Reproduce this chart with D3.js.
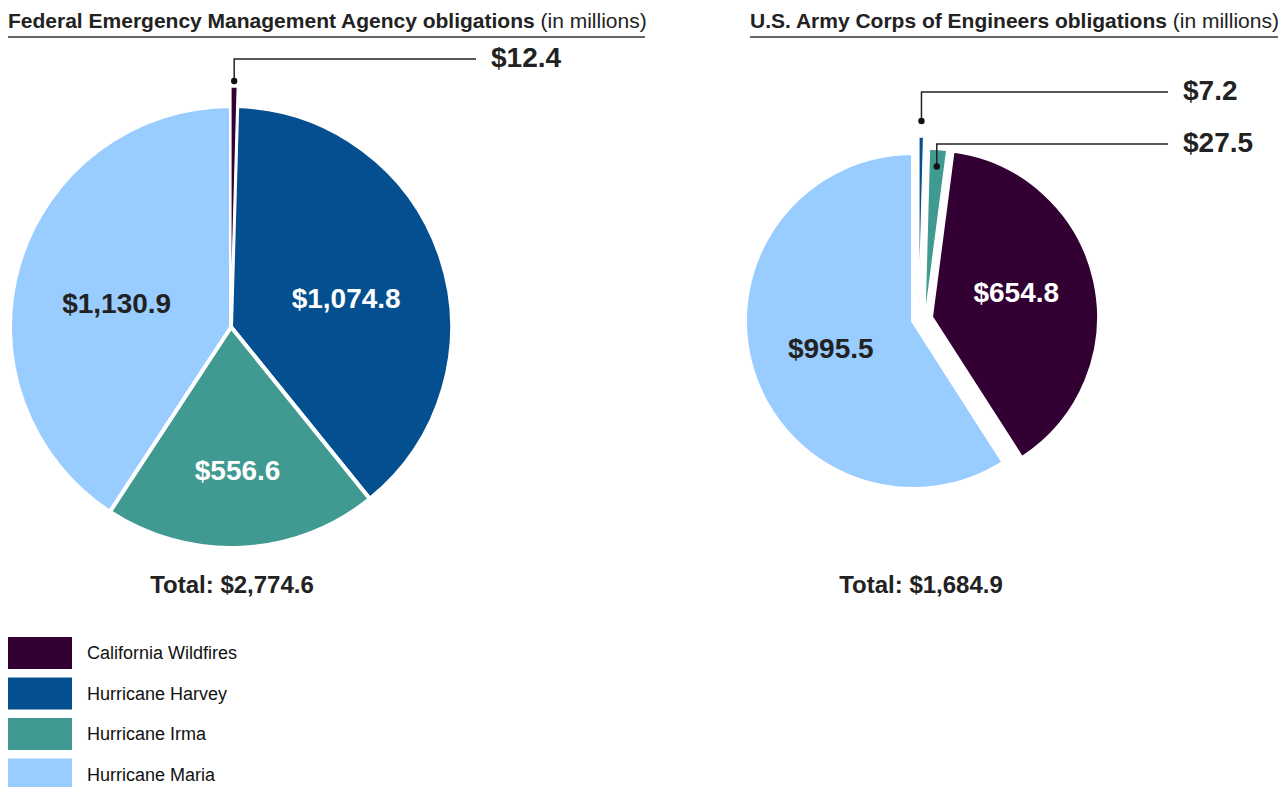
<!DOCTYPE html>
<html>
<head>
<meta charset="utf-8">
<script src="https://cdn.jsdelivr.net/npm/d3@7"></script>
<style>
  body { margin: 0; background: #fff; }
  text { font-family: "Liberation Sans", Arial, Helvetica, sans-serif; }
</style>
</head>
<body>
<div id="chart"></div>
<script>
// data
var legendCategories = ["California Wildfires", "Hurricane Harvey", "Hurricane Irma", "Hurricane Maria"];
var legendColors = ["#320033", "#044f8f", "#419a91", "#99ccff"];

var femaCategories = ["California Wildfires", "Hurricane Harvey", "Hurricane Irma", "Hurricane Maria"];
var femaValues = [12.4, 1074.8, 556.6, 1130.9];
var femaTotal = 2774.6;

var corpsCategories = ["Hurricane Harvey", "Hurricane Irma", "California Wildfires", "Hurricane Maria"];
var corpsValues = [7.2, 27.5, 654.8, 995.5];
var corpsTotal = 1684.9;

var femaTitle = "Federal Emergency Management Agency obligations";
var corpsTitle = "U.S. Army Corps of Engineers obligations";
var unitNote = " (in millions)";

// layout
var width = 1286, height = 787;
var svg = d3.select("#chart").append("svg")
    .attr("width", width)
    .attr("height", height);

var color = d3.scaleOrdinal().domain(legendCategories).range(legendColors);
var money = d3.format("$,.1f");

var femaLayout = {
  cx: 231, cy: 327, r: 221, titleX: 8, titleX2: 645, totalX: 232,
  offsets: [[0, -19], [0, 0], [0, 0], [0, 0]],
  labelR: [0, 0.55, 0.6, 0.54],
  labelDy: [0, 10, 10, 10],
  darkText: [false, false, false, true],
  callouts: [{slice: 0, dotR: 6, lineY: 59, lineX2: 476, textX: 491}]
};
var corpsLayout = {
  cx: 913, cy: 321, r: 168, titleX: 750, titleX2: 1278, totalX: 921,
  offsets: [[6, -16], [12, -4], [18, -4], [0, 0]],
  labelR: [0, 0, 0.52, 0.51],
  labelDy: [0, 0, -6, 3],
  darkText: [false, false, false, true],
  callouts: [
    {slice: 0, dotR: 16, lineY: 92, lineX2: 1168, textX: 1183},
    {slice: 1, dotR: -17, lineY: 144, lineX2: 1168, textX: 1183}
  ]
};

function drawPie(title, cats, vals, total, L) {
  var data = cats.map(function(c, i) { return {cat: c, value: vals[i], i: i}; });
  var arcs = d3.pie().sort(null).value(function(d) { return d.value; })(data);
  var arc = d3.arc().innerRadius(0).outerRadius(L.r);

  // title with underline
  var t = svg.append("text")
      .attr("x", L.titleX)
      .attr("y", 28)
      .style("font-size", "21px")
      .attr("fill", "#222");
  t.append("tspan").style("font-weight", "bold").text(title);
  t.append("tspan").text(unitNote);
  svg.append("line")
      .attr("x1", L.titleX).attr("x2", L.titleX2)
      .attr("y1", 37).attr("y2", 37)
      .attr("stroke", "#333").attr("stroke-width", 1.5);

  var g = svg.append("g").attr("transform", "translate(" + L.cx + "," + L.cy + ")");

  // big slices first with white separators, thin ones on top
  var big = arcs.filter(function(a) { return a.endAngle - a.startAngle > 0.12; });
  var small = arcs.filter(function(a) { return a.endAngle - a.startAngle <= 0.12; });

  g.selectAll("path.big").data(big).enter().append("path")
      .attr("class", "big")
      .attr("d", arc)
      .attr("transform", function(a) { var o = L.offsets[a.index]; return "translate(" + o[0] + "," + o[1] + ")"; })
      .attr("fill", function(a) { return color(a.data.cat); })
      .attr("stroke", "#fff")
      .attr("stroke-width", 4)
      .attr("stroke-linejoin", "round");

  g.selectAll("path.small").data(small).enter().append("path")
      .attr("class", "small")
      .attr("d", arc)
      .attr("transform", function(a) { var o = L.offsets[a.index]; return "translate(" + o[0] + "," + o[1] + ")"; })
      .attr("fill", function(a) { return color(a.data.cat); })
      .attr("stroke", "#fff")
      .attr("stroke-width", 1.2);

  // labels inside the big slices
  g.selectAll("text.val").data(big).enter().append("text")
      .attr("class", "val")
      .attr("x", function(a) {
        var m = (a.startAngle + a.endAngle) / 2;
        return Math.sin(m) * L.r * L.labelR[a.index] + L.offsets[a.index][0];
      })
      .attr("y", function(a) {
        var m = (a.startAngle + a.endAngle) / 2;
        return -Math.cos(m) * L.r * L.labelR[a.index] + L.offsets[a.index][1] + L.labelDy[a.index];
      })
      .attr("dy", "0.36em")
      .attr("text-anchor", "middle")
      .style("font-size", "28px")
      .style("font-weight", "bold")
      .attr("fill", function(a) { return L.darkText[a.index] ? "#222" : "#fff"; })
      .text(function(a) { return money(a.data.value); });

  // callouts for thin slices
  L.callouts.forEach(function(c) {
    var a = arcs[c.slice];
    var m = (a.startAngle + a.endAngle) / 2;
    var rr = L.r + c.dotR;
    var dx = Math.sin(m) * rr + L.offsets[c.slice][0];
    var dy = -Math.cos(m) * rr + L.offsets[c.slice][1];
    var ly = c.lineY - L.cy, lx2 = c.lineX2 - L.cx;
    g.append("path")
        .attr("d", "M" + dx + "," + dy + "V" + ly + "H" + lx2)
        .attr("fill", "none")
        .attr("stroke", "#222")
        .attr("stroke-width", 1.5);
    g.append("circle")
        .attr("cx", dx).attr("cy", dy).attr("r", 3.2)
        .attr("fill", "#111");
    g.append("text")
        .attr("x", c.textX - L.cx)
        .attr("y", ly)
        .attr("dy", "0.3em")
        .style("font-size", "28px")
        .style("font-weight", "bold")
        .attr("fill", "#222")
        .text(money(a.data.value));
  });

  // total
  svg.append("text")
      .attr("x", L.totalX)
      .attr("y", 593)
      .attr("text-anchor", "middle")
      .style("font-size", "24px")
      .style("font-weight", "bold")
      .attr("fill", "#222")
      .text("Total: " + money(total));
}

drawPie(femaTitle, femaCategories, femaValues, femaTotal, femaLayout);
drawPie(corpsTitle, corpsCategories, corpsValues, corpsTotal, corpsLayout);

// legend
var legend = svg.append("g").attr("transform", "translate(8,637)");
var item = legend.selectAll("g").data(legendCategories).enter().append("g")
    .attr("transform", function(d, i) { return "translate(0," + (i * 40.5) + ")"; });
item.append("rect")
    .attr("width", 64).attr("height", 32)
    .attr("fill", function(d) { return color(d); });
item.append("text")
    .attr("x", 79).attr("y", 16)
    .attr("dy", "0.35em")
    .style("font-size", "18px")
    .attr("fill", "#111")
    .text(function(d) { return d; });
</script>
</body>
</html>
